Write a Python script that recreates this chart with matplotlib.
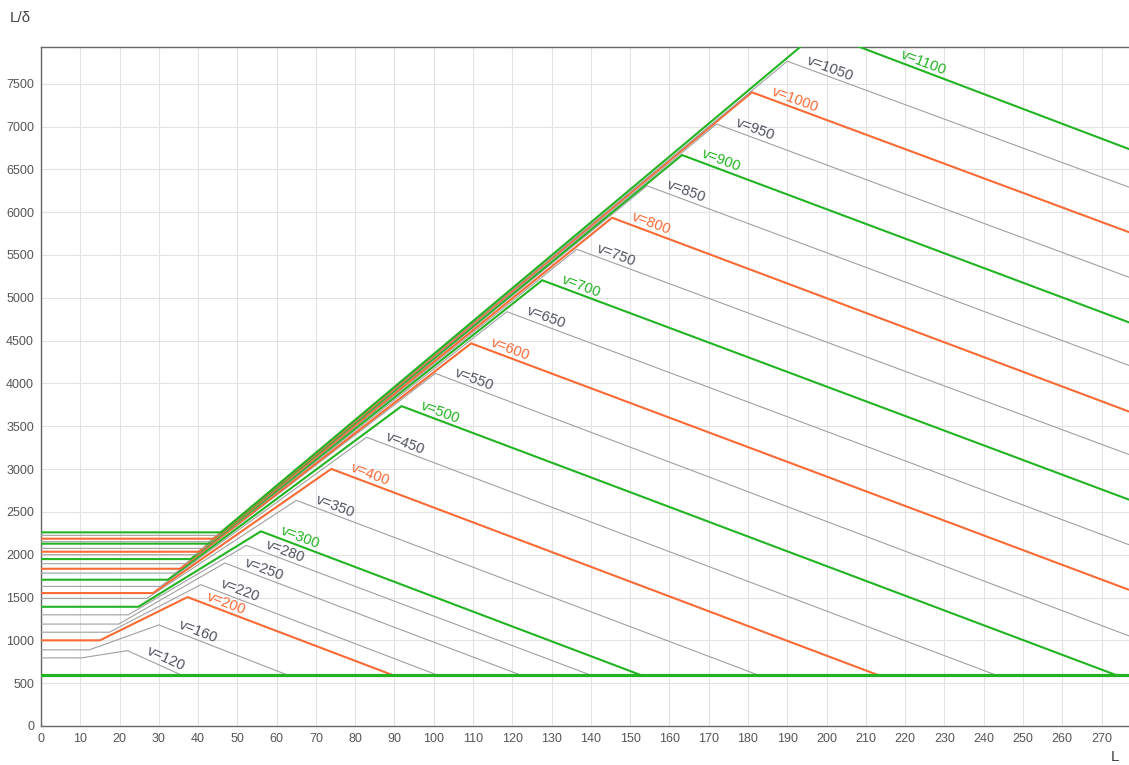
import numpy as np
import matplotlib.pyplot as plt

plt.rcParams['font.family'] = ['Liberation Sans', 'DejaVu Sans']

# speed of each curve and the vertices
speeds = [120, 160, 200, 220, 250, 280, 300, 350, 400, 450, 500, 550, 600,
          650, 700, 750, 800, 850, 900, 950, 1000, 1050, 1100]
flat_level = [795, 889, 1000, 1095, 1190, 1298, 1392, 1489, 1552, 1630, 1708,
              1786, 1836, 1895, 1949, 2000, 2035, 2074, 2129, 2152, 2187, 2226, 2261]
flat_end = [10.3, 12.3, 15.0, 17.4, 19.8, 22.2, 24.8, 26.9, 28.5, 30.4, 32.3,
            34.2, 35.4, 36.8, 38.1, 39.4, 40.2, 41.2, 42.5, 43.1, 43.9, 44.9, 45.8]
peak_L = [22.0, 30.0, 37.3, 40.7, 46.8, 52.3, 56.0, 65.0, 73.9, 82.9, 91.8,
          100.4, 109.5, 118.6, 127.6, 136.4, 145.4, 154.3, 163.2, 172.0, 181.0, 190.0, 198.0]
peak_H = [880, 1180, 1505, 1650, 1903, 2109, 2273, 2635, 3002, 3372, 3735,
          4117, 4468, 4838, 5205, 5567, 5935, 6308, 6667, 7029, 7400, 7763, 8110]
end_L = [35.5, 62.5, 89.2, 100.6, 121.8, 139.6, 152.4, 182.3, 212.8, 242.8, 273.4,
         277, 277, 277, 277, 277, 277, 277, 277, 277, 277, 277, 277]
end_H = [600, 600, 600, 600, 600, 600, 600, 600, 600, 600, 600,
         1052, 1590, 2117, 2643, 3170, 3672, 4210, 4713, 5240, 5766, 6292, 6737]
floor_level = 600

x_ticks = list(range(0, 280, 10))
y_ticks = list(range(0, 8000, 500))

GREEN = '#22b422'
ORANGE = '#fa6a35'
GRAY = '#a0a0a0'


def style_for(v):
    if v % 200 == 0:
        return ORANGE, 1.5, ORANGE
    if v >= 300 and v % 200 == 100:
        return GREEN, 1.5, GREEN
    return GRAY, 0.8, '#50545e'


fig = plt.figure(figsize=(11.29, 7.65), dpi=100)
ax = fig.add_axes([0.0363, 0.051, 0.9637, 0.8877])
xmax, ymax = 277, 7930
ax.set_xlim(0, xmax)
ax.set_ylim(0, ymax)

ax.set_xticks(x_ticks)
ax.set_yticks(y_ticks)
ax.grid(True, color='#e3e3e3', linewidth=0.8)
ax.set_axisbelow(True)
ax.tick_params(length=0, labelsize=9, colors='#555555', pad=5)
for side in ['left', 'bottom', 'top']:
    ax.spines[side].set_color('#666666')
    ax.spines[side].set_linewidth(1.0)
ax.spines['right'].set_visible(False)

fig.canvas.draw()
for i, v in enumerate(speeds):
    color, lw, tcolor = style_for(v)
    xs = [0, flat_end[i], peak_L[i], end_L[i]]
    ys = [flat_level[i], flat_level[i], peak_H[i], end_H[i]]
    ax.plot(xs, ys, color=color, linewidth=lw, solid_joinstyle='miter', zorder=3)

    # label along the falling segment
    p0 = ax.transData.transform((peak_L[i], peak_H[i]))
    p1 = ax.transData.transform((end_L[i], end_H[i]))
    angle = np.degrees(np.arctan2(p1[1] - p0[1], p1[0] - p0[0]))
    slope = (end_H[i] - peak_H[i]) / (end_L[i] - peak_L[i])
    lx = peak_L[i] + 4.5
    if peak_H[i] > ymax:
        lx = peak_L[i] + (ymax - peak_H[i]) / slope + 10
    ly = peak_H[i] + slope * (lx - peak_L[i])
    ax.annotate(f'v={v}', xy=(lx, ly), xytext=(0, 1.0), textcoords='offset points',
                rotation=angle, rotation_mode='anchor', ha='left', va='bottom',
                fontsize=10.5, color=tcolor, zorder=4)

ax.plot([0, xmax], [floor_level, floor_level], color=GREEN, linewidth=2.3, zorder=3)

fig.text(0.009, 0.976, 'L/δ', fontsize=11, color='#444444', ha='left', va='center')
fig.text(0.9876, 0.0105, 'L', fontsize=11, color='#444444', ha='center', va='center')

fig.savefig('out.png', dpi=100)
